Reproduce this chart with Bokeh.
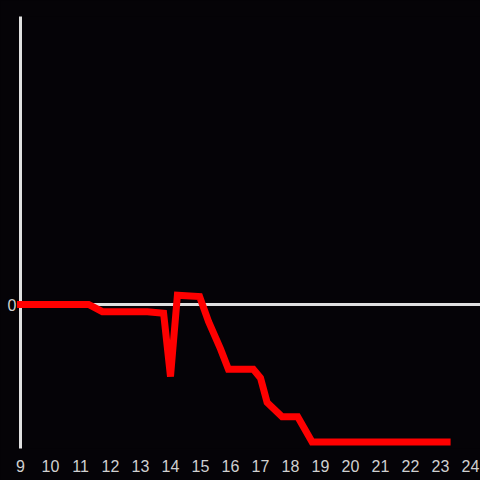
from bokeh.plotting import figure
from bokeh.models import Span, FixedTicker, Range1d
from bokeh.embed import file_html
from bokeh.resources import INLINE

# data
hours = [9.0, 11.27, 11.73, 13.23, 13.77, 14.0, 14.23, 14.97, 15.27, 15.67, 15.93,
         16.76, 17.0, 17.22, 17.72, 18.24, 18.72, 23.22]
values = [0.0, 0.0, -0.05, -0.05, -0.06, -0.5, 0.065, 0.055, -0.12, -0.31, -0.45,
          -0.45, -0.51, -0.68, -0.78, -0.78, -0.955, -0.955]
x_ticks = list(range(9, 25))
y_ticks = [0]

BG = "#050307"
AXIS = "#e0e0e0"
LABEL = "#d0d0d0"
FONT = "Liberation Sans"

p = figure(width=480, height=480, output_backend="svg", toolbar_location=None,
           x_range=Range1d(9, 24 + 10 / 30), y_range=Range1d(-1, 2),
           min_border_left=20, min_border_right=0, min_border_top=16, min_border_bottom=32)
p.background_fill_color = BG
p.border_fill_color = BG
p.outline_line_color = None
p.grid.visible = False

p.xaxis.ticker = FixedTicker(ticks=x_ticks)
p.xaxis.axis_line_color = None
p.xaxis.major_tick_line_color = None
p.xaxis.minor_tick_line_color = None
p.xaxis.major_label_standoff = 5
p.xaxis.major_label_text_color = LABEL
p.xaxis.major_label_text_font = FONT
p.xaxis.major_label_text_font_size = "16px"

p.yaxis.ticker = FixedTicker(ticks=y_ticks)
p.yaxis.axis_line_color = AXIS
p.yaxis.axis_line_width = 3
p.yaxis.major_tick_line_color = None
p.yaxis.minor_tick_line_color = None
p.yaxis.major_tick_out = 0
p.yaxis.major_tick_in = 0
p.yaxis.major_label_standoff = 4
p.yaxis.major_label_text_color = LABEL
p.yaxis.major_label_text_font = FONT
p.yaxis.major_label_text_font_size = "16px"

p.add_layout(Span(location=0, dimension="width", line_color=AXIS, line_width=3))

p.line(hours, values, line_color="#ff0000", line_width=7, line_join="miter",
       line_cap="square", level="overlay")

html = file_html(p, INLINE)
html = html.replace("<head>", "<head><style>html,body{margin:0;padding:0;background:%s;}</style>" % BG, 1)
open("out.html", "w").write(html)
